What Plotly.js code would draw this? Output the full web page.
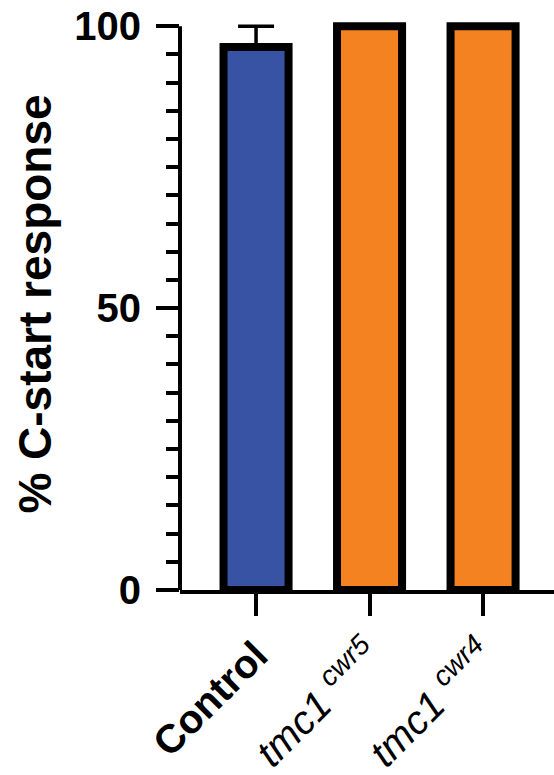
<!DOCTYPE html>
<html>
<head>
<meta charset="utf-8">
<script src="https://cdn.plot.ly/plotly-3.0.1.min.js"></script>
<style>html,body{margin:0;padding:0;background:#fff;}#chart{width:554px;height:775px;}</style>
</head>
<body>
<div id="chart"></div>
<script>
// Data
const categories = ["Control", "tmc1 cwr5", "tmc1 cwr4"];
const tickLabels = ["<b>Control</b>", "<i>tmc1 <sup>cwr5</sup></i>", "<i>tmc1 <sup>cwr4</sup></i>"];
const meanResponse = [96.3, 100, 100];
const errorUpper = [3.7, 0, 0];
const errorLower = [0, 0, 0];
const barColors = ["#3953A4", "#F58220", "#F58220"];
const yTickVals = [0, 50, 100];
const yTickText = ["0", "50", "100"];

const trace = {
  type: "bar",
  x: categories,
  y: meanResponse,
  width: 0.573,
  marker: { color: barColors, line: { color: "#000", width: 8 } },
  error_y: {
    type: "data", symmetric: false, array: errorUpper, arrayminus: errorLower,
    color: "#000", thickness: 3.5, width: 18, visible: true
  },
  hoverinfo: "none"
};

const layout = {
  width: 554, height: 775,
  margin: { l: 180, r: 0, t: 18, b: 185 },
  paper_bgcolor: "#fff", plot_bgcolor: "#fff",
  showlegend: false,
  font: { family: "Liberation Sans, Arial, sans-serif", color: "#000" },
  xaxis: {
    type: "category",
    range: [-0.67, 2.625],
    tickvals: categories,
    ticktext: tickLabels,
    tickangle: -45,
    tickfont: { size: 40, color: "#000" },
    ticks: "outside", ticklen: 22, tickwidth: 4, tickcolor: "#000",
    showline: true, linecolor: "#000", linewidth: 4,
    showgrid: false, zeroline: false, fixedrange: true
  },
  yaxis: {
    range: [0, 101.45],
    tickvals: yTickVals,
    ticktext: yTickText,
    tickfont: { size: 40, color: "#000", weight: "bold" },
    ticks: "outside", ticklen: 23, tickwidth: 4, tickcolor: "#000",
    ticklabelstandoff: 7,
    minor: { dtick: 5, ticks: "outside", ticklen: 13, tickwidth: 4, tickcolor: "#000", showgrid: false },
    showline: false,
    showgrid: false, zeroline: false, fixedrange: true,
    title: { text: "% C-start response", font: { size: 46, weight: "bold", color: "#000" }, standoff: 8 }
  },
  shapes: [{
    type: "line", xref: "paper", yref: "y", x0: 0, x1: 0, y0: 0, y1: 100,
    line: { color: "#000", width: 4 }, layer: "above"
  }]
};

Plotly.newPlot("chart", [trace], layout, { displayModeBar: false, staticPlot: true });
</script>
</body>
</html>
